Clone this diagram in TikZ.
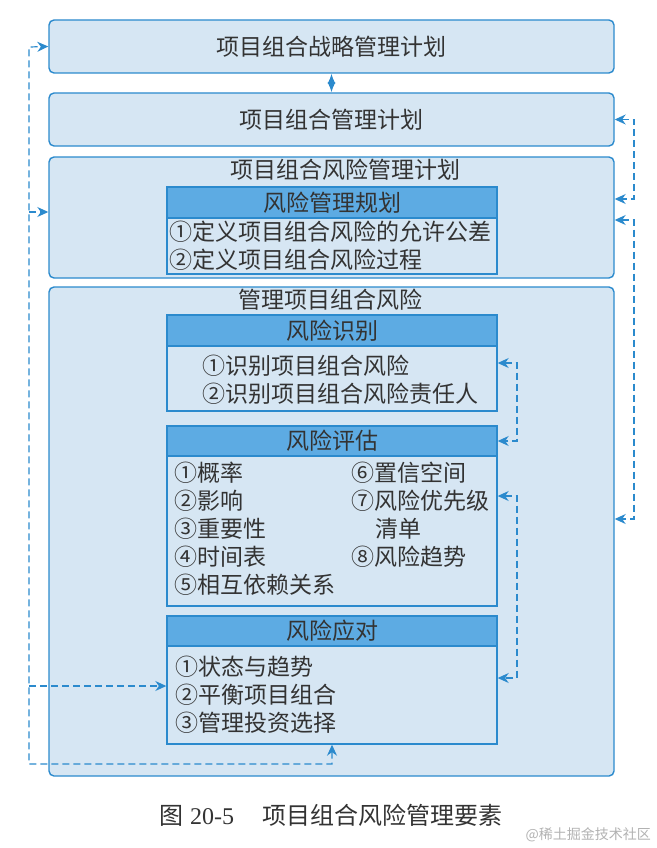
\documentclass[tikz,border=0pt]{standalone}
\usepackage{fontspec}
\setmainfont{Liberation Serif}
\newfontfamily\cjk{Noto Sans CJK SC}
\usepackage{tikz}
\usetikzlibrary{arrows.meta,calc,positioning}
\definecolor{lineblue}{HTML}{2B8ACD}
\definecolor{boxfill}{HTML}{D6E6F3}
\definecolor{headfill}{HTML}{5DABE3}
\definecolor{txtgray}{HTML}{333333}
\newcommand{\boxtxt}{\cjk\fontsize{23}{28}\selectfont}

\begin{document}
\begin{tikzpicture}[x=1pt,y=-1pt,
    every node/.style={text=txtgray,font=\boxtxt},
    outer/.style={draw=lineblue,fill=boxfill,line width=1.4pt,rounded corners=5pt,minimum width=565pt,inner sep=0pt},
    inner/.style={draw=lineblue,fill=boxfill,line width=1.4pt,minimum width=330pt,inner sep=0pt},
    head/.style={inner,fill=headfill},
    item/.style={anchor=west,inner sep=0pt},
    link/.style={lineblue,line width=1.2pt,dash pattern=on 7pt off 4pt,{Stealth[length=11pt,width=10pt]}-{Stealth[length=11pt,width=10pt]}},
    linkto/.style={link,-{Stealth[length=11pt,width=10pt]}}]
    \useasboundingbox (0,0) rectangle (656,848);
    \node[outer,minimum height=53pt] (strat) at (331.5,46.5) {项目组合战略管理计划};
    \node[outer,minimum height=53pt] (port) at (331.5,119.5) {项目组合管理计划};
    \node[outer,minimum height=121pt] (rplan) at (331.5,217.5) {};
    \node[outer,minimum height=489pt] (manage) at (331.5,531.5) {};
    \draw[lineblue,line width=1.2pt,{Latex[length=10pt,width=8pt]}-{Latex[length=10pt,width=8pt]}] (strat.south) -- (port.north);

    \node (rplantitle) at (345,170) {项目组合风险管理计划};
    \node[inner,minimum height=56pt] (planbody) at (332,246) {};
    \node[head,minimum height=31pt] (planhead) at (332,202.5) {风险管理规划};
    \node[item] (plan1) at (169,232) {①定义项目组合风险的允许公差};
    \node[item] (plan2) at (169,260) {②定义项目组合风险过程};

    \node (managetitle) at (330,300) {管理项目组合风险};
    \node[inner,minimum height=65pt] (identbody) at (332,378.5) {};
    \node[head,minimum height=31pt] (identhead) at (332,330.5) {风险识别};
    \node[item] (ident1) at (202,366) {①识别项目组合风险};
    \node[item] (ident2) at (202,394) {②识别项目组合风险责任人};

    \node[inner,minimum height=150pt] (assessbody) at (332,531) {};
    \node[head,minimum height=30pt] (assesshead) at (332,441) {风险评估};
    \node[item] (assess1) at (174,473) {①概率};
    \node[item] (assess2) at (174,501) {②影响};
    \node[item] (assess3) at (174,529) {③重要性};
    \node[item] (assess4) at (174,557) {④时间表};
    \node[item] (assess5) at (174,585) {⑤相互依赖关系};
    \node[item] (assess6) at (351,473) {⑥置信空间};
    \node[item] (assess7) at (351,501) {⑦风险优先级};
    \node[item] (assess7b) at (375,529) {清单};
    \node[item] (assess8) at (351,557) {⑧风险趋势};

    \node[inner,minimum height=98pt] (respbody) at (332,695) {};
    \node[head,minimum height=30pt] (resphead) at (332,631) {风险应对};
    \node[item] (resp1) at (175,667) {①状态与趋势};
    \node[item] (resp2) at (175,695) {②平衡项目组合};
    \node[item] (resp3) at (175,723) {③管理投资选择};

    \coordinate (L1) at (29,47);
    \coordinate (L2) at (29,764);
    \coordinate (L3) at (332,764);
    \coordinate (L4) at (29,212);
    \coordinate (L5) at (29,686);
    \draw[link] (respbody.south) -- (L3) -- (L2) -- (L1) -- (strat.west);
    \draw[linkto] (L4) -- (L4 -| rplan.west);
    \draw[linkto] (L5) -- (L5 -| respbody.west);

    \coordinate (R1) at (634,199);
    \coordinate (R2) at (634,220);
    \coordinate (R3) at (634,519);
    \draw[link] (port.east) -| (R1) -- (R1 -| rplan.east);
    \draw[link] (R2 -| rplan.east) -- (R2) -- (R3) -- (R3 -| manage.east);

    \coordinate (S1) at (517,363);
    \coordinate (S2) at (517,441);
    \coordinate (S3) at (517,496);
    \coordinate (S4) at (517,678);
    \draw[link] (S1 -| identbody.east) -- (S1) -- (S2) -- (S2 -| assesshead.east);
    \draw[link] (S3 -| assessbody.east) -- (S3) -- (S4) -- (S4 -| respbody.east);

    \node[anchor=west,inner sep=0pt,font=\fontsize{24}{24}\selectfont] (caption) at (159,815) {{\cjk 图}\hspace{7pt}20-5\hspace{28pt}{\cjk 项目组合风险管理要素}};
    \node[anchor=east,inner sep=0pt,text=gray!60,font=\cjk\fontsize{14}{14}\selectfont] (mark) at (651,835) {@稀土掘金技术社区};
\end{tikzpicture}
\end{document}
